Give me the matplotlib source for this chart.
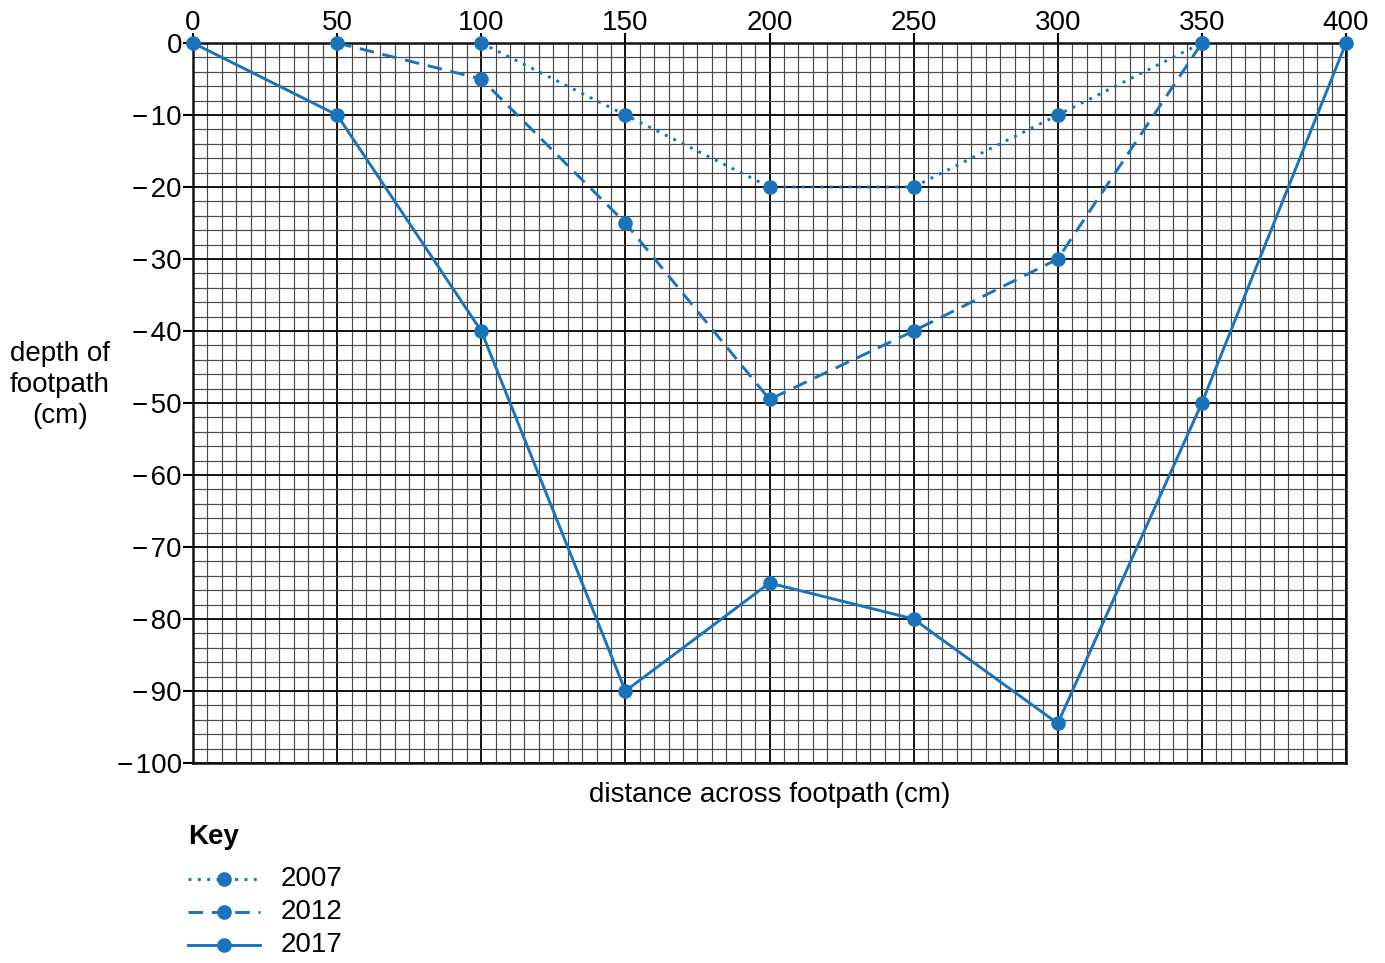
import matplotlib
matplotlib.use("Agg")
import matplotlib.pyplot as plt
from matplotlib.lines import Line2D
import numpy as np

plt.rcParams['font.family'] = ['Liberation Sans', 'DejaVu Sans']

x_2007 = [100, 150, 200, 250, 300, 350]
y_2007 = [0, -10, -20, -20, -10, 0]
x_2012 = [50, 100, 150, 200, 250, 300, 350]
y_2012 = [0, -5, -25, -49.5, -40, -30, 0]
x_2017 = [0, 50, 100, 150, 200, 250, 300, 350, 400]
y_2017 = [0, -10, -40, -90, -75, -80, -94.5, -50, 0]
years = ['2007', '2012', '2017']
x_ticks = [0, 50, 100, 150, 200, 250, 300, 350, 400]
y_ticks = [0, -10, -20, -30, -40, -50, -60, -70, -80, -90, -100]

color = '#1a73bd'
fs = 20
W, H = 1385, 963

fig = plt.figure(figsize=(13.85, 9.63), dpi=100)
ax = fig.add_axes([193/W, 1-763/H, (1346-193)/W, (763-43)/H])

ax.set_xlim(0, 400)
ax.set_ylim(-100, 0)

# grid
ax.set_xticks(np.arange(0, 401, 5), minor=True)
ax.set_yticks(np.arange(-100, 1, 2), minor=True)
ax.set_xticks(x_ticks)
ax.set_yticks(y_ticks)
ax.grid(which='minor', color='#4a4a4a', linewidth=0.85)
ax.grid(which='major', color='#111111', linewidth=1.4)
ax.set_axisbelow(True)
ax.tick_params(which='minor', length=0)
ax.xaxis.tick_top()
ax.tick_params(which='major', axis='x', direction='out', length=7, width=1.5, labelsize=fs, pad=-2)
ax.tick_params(which='major', axis='y', direction='out', length=7, width=1.5, labelsize=fs, pad=1)
ax.set_yticklabels(['0' if v == 0 else '\u2212\u200a' + str(-v) for v in y_ticks])
for s in ax.spines.values():
    s.set_linewidth(1.8)
    s.set_color('#111111')

lw = 2.1
ms = 9.5
styles = [(0, (1, 2.2)), (0, (5, 3)), '-']
l1, = ax.plot(x_2007, y_2007, color=color, lw=lw, linestyle=styles[0], marker='o', ms=ms, clip_on=False, zorder=5)
l2, = ax.plot(x_2012, y_2012, color=color, lw=lw, linestyle=styles[1], marker='o', ms=ms, clip_on=False, zorder=5)
l3, = ax.plot(x_2017, y_2017, color=color, lw=lw, linestyle=styles[2], marker='o', ms=ms, clip_on=False, zorder=5)

ax.set_xlabel('distance across footpath\u2009(cm)', fontsize=fs, labelpad=14)
ax.xaxis.set_label_position('bottom')
fig.text(60/W, 1-385/H, 'depth of\nfootpath\n(cm)', fontsize=fs, ha='center', va='center', linespacing=1.25)

# Key (manual legend in figure coordinates)
fig.text(188/W, 1-837/H, 'Key', fontsize=fs, fontweight='bold', ha='left', va='center')
row_y = [879, 912, 945]
for i, (yr, st) in enumerate(zip(years, styles)):
    yy = 1 - row_y[i]/H
    fig.add_artist(Line2D([188/W, 260/W], [yy, yy], color=color, lw=lw, linestyle=st,
                          transform=fig.transFigure))
    fig.add_artist(Line2D([224/W], [yy], color=color, marker='o', ms=ms, linestyle='none',
                          transform=fig.transFigure))
    fig.text(281/W, yy, yr, fontsize=fs, ha='left', va='center')

fig.savefig('out.png', dpi=100)
